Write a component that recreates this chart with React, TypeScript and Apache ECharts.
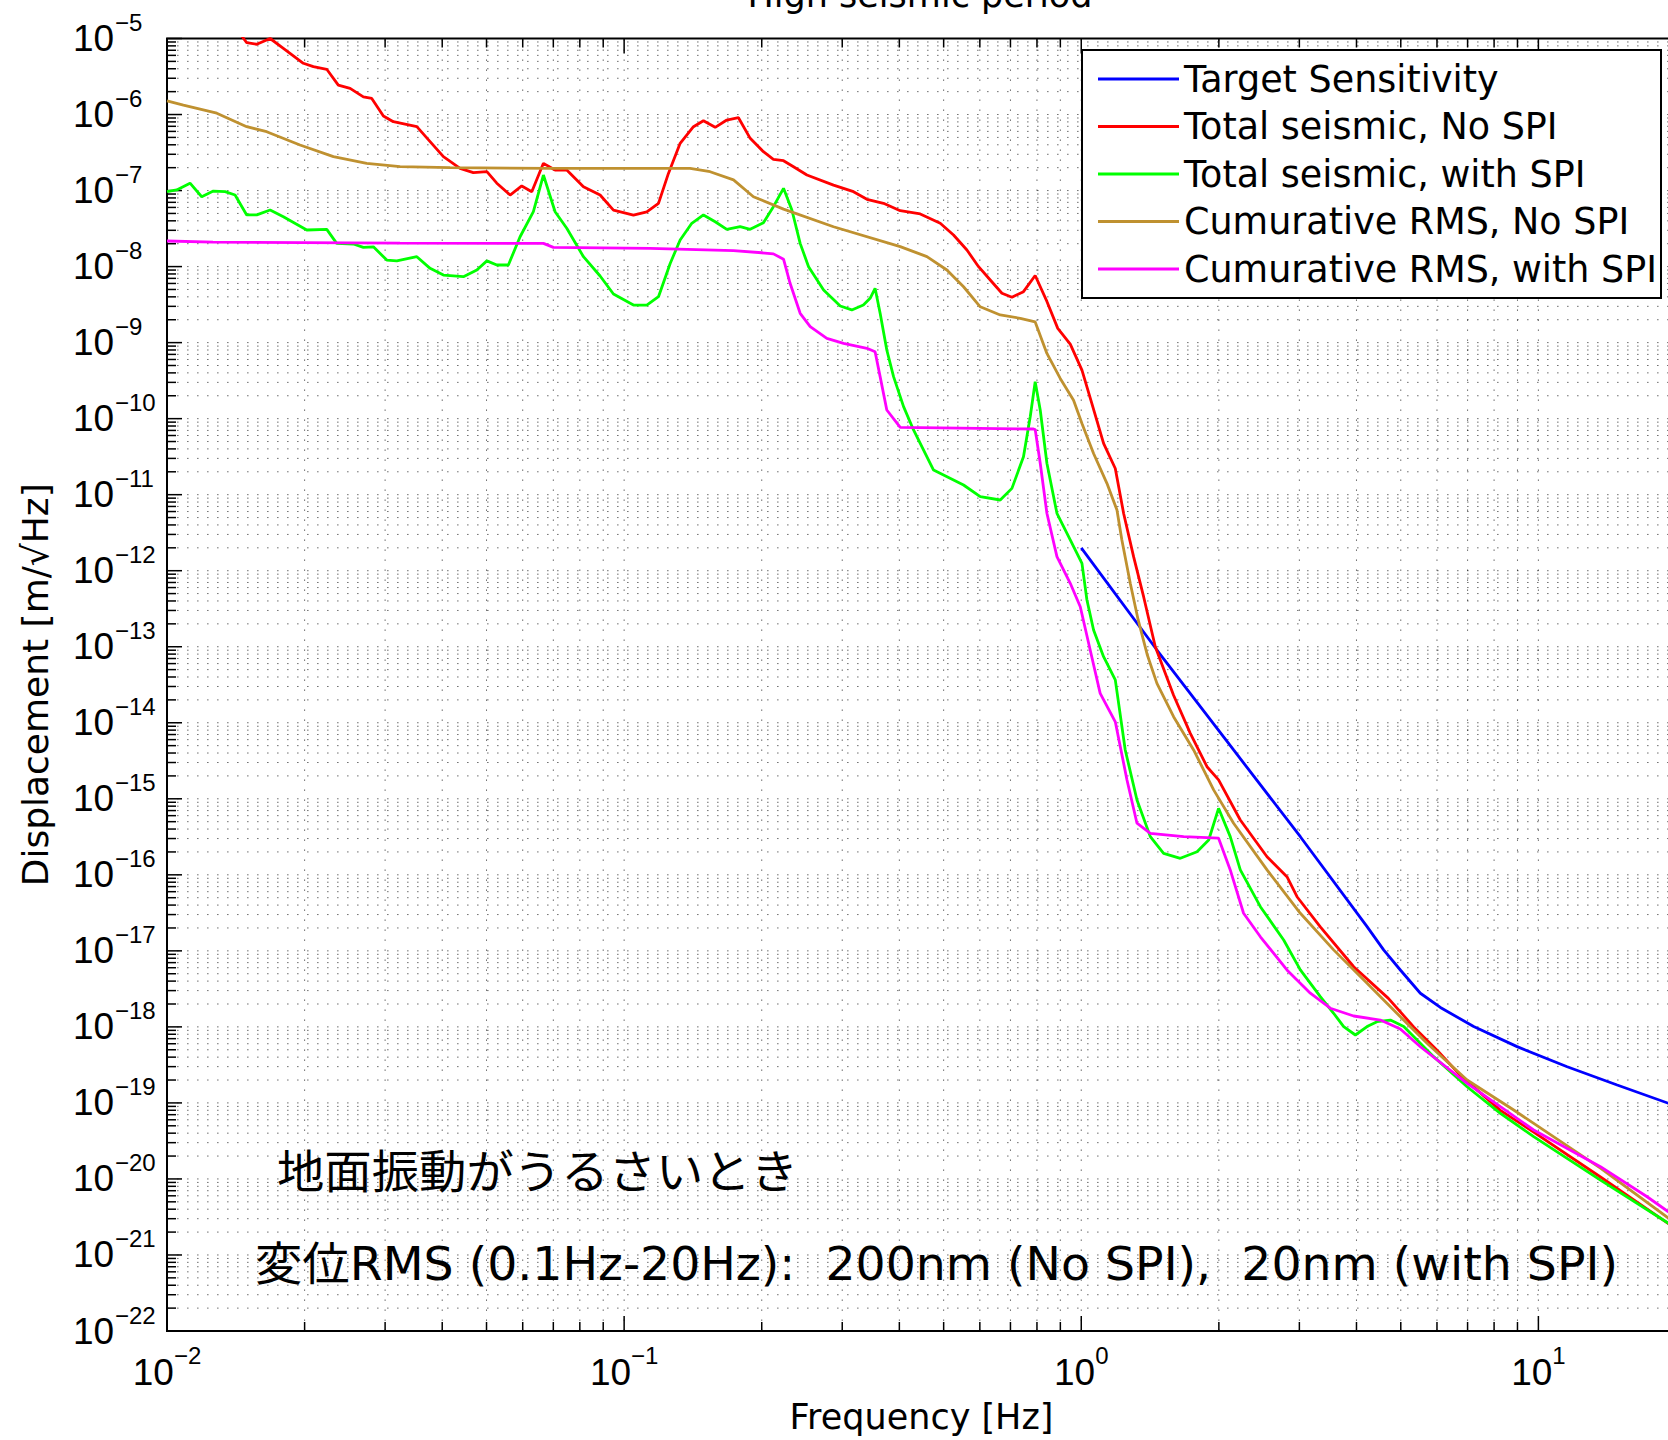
import React, { useEffect, useRef } from 'react';
import * as echarts from 'echarts';

// ---------- data ----------
const seriesNames = [
  'Target Sensitivity',
  'Total seismic, No SPI',
  'Total seismic, with SPI',
  'Cumurative RMS, No SPI',
  'Cumurative RMS, with SPI',
];
const seriesColors = ['#0000ff', '#ff0000', '#00ff00', '#bf9130', '#ff00ff'];

// [frequency Hz, displacement m/rtHz]
const targetSensitivity = [
  [1.0, 2.0e-12], [1.464, 9.05e-14], [2.154, 4.39e-15], [3.015, 3.17e-16], [4.219, 2.08e-17],
  [4.586, 1.03e-17], [4.989, 5.6e-18], [5.518, 2.77e-18], [6.104, 1.8e-18], [7.218, 1.01e-18],
  [8.982, 5.5e-19], [11.56, 2.99e-19], [14.87, 1.72e-19], [19.25, 9.89e-20], [20, 9.3e-20],
];

const totalNoSPI = [
  [0.014, 1.5e-5], [0.01494, 8.8e-6], [0.01572, 8.4e-6], [0.01681, 1.0e-5], [0.01797, 7.43e-6],
  [0.01987, 4.72e-6], [0.0209, 4.26e-6], [0.02236, 3.94e-6], [0.0237, 2.44e-6], [0.02515, 2.21e-6],
  [0.02689, 1.71e-6], [0.02805, 1.63e-6], [0.02974, 9.57e-7], [0.03127, 8.05e-7], [0.0352, 6.92e-7],
  [0.03763, 4.4e-7], [0.04024, 2.79e-7], [0.04376, 1.96e-7], [0.04679, 1.72e-7], [0.05009, 1.77e-7],
  [0.05266, 1.25e-7], [0.0563, 8.73e-8], [0.05971, 1.15e-7], [0.06281, 9.64e-8], [0.06659, 2.28e-7],
  [0.07063, 1.86e-7], [0.0749, 1.86e-7], [0.08147, 1.12e-7], [0.0886, 8.73e-8], [0.09476, 5.53e-8],
  [0.1048, 4.76e-8], [0.1121, 5.26e-8], [0.1189, 6.79e-8], [0.125, 1.68e-7], [0.1326, 4.18e-7],
  [0.1418, 6.92e-7], [0.1491, 8.3e-7], [0.1582, 6.79e-7], [0.1677, 8.47e-7], [0.1779, 9.08e-7],
  [0.1887, 4.86e-7], [0.2017, 3.24e-7], [0.2121, 2.58e-7], [0.2232, 2.47e-7], [0.2347, 2.06e-7],
  [0.2511, 1.6e-7], [0.2871, 1.18e-7], [0.3175, 9.66e-8], [0.3397, 7.67e-8], [0.3693, 6.79e-8],
  [0.4018, 5.43e-8], [0.4444, 4.92e-8], [0.4915, 3.71e-8], [0.5255, 2.6e-8], [0.5622, 1.65e-8],
  [0.5962, 9.97e-9], [0.6323, 6.67e-9], [0.6706, 4.46e-9], [0.7052, 3.95e-9], [0.7475, 4.68e-9],
  [0.7929, 7.64e-9], [0.8411, 3.48e-9], [0.8884, 1.54e-9], [0.9461, 9.57e-10], [1.0035, 4.35e-10],
  [1.055, 1.58e-10], [1.119, 4.72e-11], [1.187, 2.21e-11], [1.238, 5.66e-12], [1.302, 1.52e-12],
  [1.369, 4.55e-13], [1.452, 1.0e-13], [1.592, 2.3e-14], [1.732, 7.26e-15], [1.884, 2.64e-15],
  [1.997, 1.77e-15], [2.228, 5.26e-16], [2.549, 1.73e-16], [2.818, 9.44e-17], [2.965, 5.15e-17],
  [3.334, 2.07e-17], [3.944, 6.18e-18], [4.697, 2.37e-18], [5.335, 1.0e-18], [6.003, 4.93e-19],
  [6.751, 2.3e-19], [8.257, 7.97e-20], [9.765, 4.13e-20], [13.67, 1.06e-20], [19.25, 2.58e-21],
  [20, 2.2e-21],
];

const totalWithSPI = [
  [0.01, 9.66e-8], [0.0105, 1.02e-7], [0.01123, 1.25e-7], [0.01191, 8.3e-8], [0.01263, 9.86e-8],
  [0.0134, 9.66e-8], [0.01409, 8.75e-8], [0.01494, 4.78e-8], [0.01572, 4.78e-8], [0.01681, 5.55e-8],
  [0.01797, 4.53e-8], [0.02022, 3.03e-8], [0.02236, 3.09e-8], [0.02351, 2.02e-8], [0.02557, 1.98e-8],
  [0.02689, 1.79e-8], [0.02828, 1.82e-8], [0.03025, 1.22e-8], [0.03182, 1.19e-8], [0.0352, 1.35e-8],
  [0.03763, 9.48e-9], [0.04024, 7.74e-9], [0.0445, 7.36e-9], [0.04762, 9.02e-9], [0.05009, 1.19e-8],
  [0.05266, 1.05e-8], [0.05582, 1.05e-8], [0.05921, 2.47e-8], [0.06331, 5.27e-8], [0.06659, 1.6e-7],
  [0.07063, 5.27e-8], [0.0749, 3.19e-8], [0.08147, 1.35e-8], [0.0886, 7.52e-9], [0.09476, 4.36e-9],
  [0.1048, 3.12e-9], [0.1121, 3.12e-9], [0.1189, 4.02e-9], [0.1261, 1.1e-8], [0.1326, 2.24e-8],
  [0.1406, 3.71e-8], [0.1491, 4.78e-8], [0.1582, 3.89e-8], [0.1677, 3.09e-8], [0.1794, 3.35e-8],
  [0.1887, 3.09e-8], [0.2017, 3.78e-8], [0.2121, 6.14e-8], [0.2232, 1.07e-7], [0.2328, 5.55e-8],
  [0.2427, 2.02e-8], [0.2532, 9.97e-9], [0.2731, 4.92e-9], [0.297, 3.03e-9], [0.3148, 2.69e-9],
  [0.3337, 3.12e-9], [0.3452, 3.83e-9], [0.354, 5.18e-9], [0.3631, 2.43e-9], [0.3755, 8.0e-10],
  [0.3885, 3.57e-10], [0.4086, 1.44e-10], [0.4296, 7.1e-11], [0.4752, 2.11e-11], [0.5527, 1.34e-11],
  [0.6012, 9.4e-12], [0.6649, 8.51e-12], [0.7052, 1.21e-11], [0.7475, 3.16e-11], [0.7733, 1.06e-10],
  [0.7929, 3.06e-10], [0.8133, 1.3e-10], [0.8411, 2.59e-11], [0.8847, 5.69e-12], [0.9461, 2.54e-12],
  [1.0035, 1.25e-12], [1.029, 4.12e-13], [1.064, 1.66e-13], [1.119, 7.4e-14], [1.187, 3.66e-14],
  [1.248, 4.39e-15], [1.324, 9.64e-16], [1.416, 3.18e-16], [1.514, 1.92e-16], [1.647, 1.65e-16],
  [1.792, 2.01e-16], [1.9, 2.87e-16], [1.997, 7.5e-16], [2.118, 3.18e-16], [2.228, 1.16e-16],
  [2.465, 3.81e-17], [2.772, 1.39e-17], [3.015, 5.62e-18], [3.334, 2.5e-18], [3.565, 1.51e-18],
  [3.75, 1.01e-18], [3.978, 7.82e-19], [4.219, 1.01e-18], [4.437, 1.17e-18], [4.745, 1.23e-18],
  [5.074, 1.01e-18], [5.9, 4.06e-19], [6.982, 1.63e-19], [8.257, 7.3e-20], [9.765, 3.6e-20],
  [13.67, 9.64e-21], [19.25, 2.61e-21], [20, 2.2e-21],
];

const cumRmsNoSPI = [
  [0.01, 1.51e-6], [0.01086, 1.33e-6], [0.01285, 1.04e-6], [0.01494, 6.92e-7], [0.01652, 5.94e-7],
  [0.01954, 3.97e-7], [0.02312, 2.79e-7], [0.02735, 2.28e-7], [0.03235, 2.06e-7], [0.04162, 2.0e-7],
  [0.06888, 1.96e-7], [0.1394, 1.96e-7], [0.1542, 1.77e-7], [0.1735, 1.38e-7], [0.1918, 8.3e-8],
  [0.2232, 5.7e-8], [0.2871, 3.34e-8], [0.4018, 1.83e-8], [0.4596, 1.35e-8], [0.5082, 9.02e-9],
  [0.5527, 5.43e-9], [0.6012, 2.96e-9], [0.6649, 2.31e-9], [0.7355, 2.09e-9], [0.7929, 1.87e-9],
  [0.8411, 7.21e-10], [0.8995, 3.38e-10], [0.9619, 1.75e-10], [1.0035, 8.64e-11], [1.064, 3.48e-11],
  [1.138, 1.41e-11], [1.197, 6.27e-12], [1.227, 2.54e-12], [1.28, 6.83e-13], [1.332, 2.25e-13],
  [1.395, 7.78e-14], [1.464, 3.3e-14], [1.592, 1.2e-14], [1.761, 4.39e-15], [1.948, 1.31e-15],
  [2.154, 4.77e-16], [2.549, 1.16e-16], [3.015, 3.12e-17], [3.565, 1.03e-17], [4.219, 3.74e-18],
  [4.989, 1.36e-18], [5.707, 6.08e-19], [6.982, 2.0e-19], [8.831, 8.07e-20], [13.67, 1.39e-20],
  [19.25, 3.06e-21], [20, 2.7e-21],
];

const cumRmsWithSPI = [
  [0.01, 2.17e-8], [0.01261, 2.1e-8], [0.03235, 2.04e-8], [0.06227, 2.02e-8], [0.06659, 2.02e-8],
  [0.07003, 1.79e-8], [0.114, 1.74e-8], [0.1735, 1.62e-8], [0.2, 1.52e-8], [0.2121, 1.47e-8],
  [0.2232, 1.25e-8], [0.2307, 6.03e-9], [0.2427, 2.43e-9], [0.2553, 1.62e-9], [0.2776, 1.14e-9],
  [0.302, 9.8e-10], [0.3397, 8.42e-10], [0.354, 7.6e-10], [0.3631, 3.57e-10], [0.3755, 1.3e-10],
  [0.4018, 7.66e-11], [0.7864, 7.31e-11], [0.7929, 7.2e-11], [0.8133, 2.59e-11], [0.8411, 5.69e-12],
  [0.8847, 1.53e-12], [0.9461, 6.83e-13], [0.995, 3.36e-13], [1.046, 9.05e-14], [1.1, 2.44e-14],
  [1.187, 1.03e-14], [1.259, 1.77e-15], [1.324, 4.77e-16], [1.416, 3.52e-16], [1.675, 3.18e-16],
  [1.997, 3.03e-16], [2.118, 1.16e-16], [2.265, 3.12e-17], [2.465, 1.53e-17], [2.818, 5.6e-18],
  [3.17, 2.77e-18], [3.506, 1.76e-18], [3.944, 1.39e-18], [4.511, 1.23e-18], [4.989, 9.37e-19],
  [5.518, 5.48e-19], [6.982, 1.81e-19], [8.257, 8.91e-20], [9.765, 4.4e-20], [13.67, 1.45e-20],
  [17.29, 5.83e-21], [19.25, 3.7e-21], [20, 3.2e-21],
];

// axis ranges and grid positions
const xMin = 0.01;
const xMax = 20;
const yMin = 1e-22;
const yMax = 1e-5;
const gridMantissas = [1, 2, 3, 4, 5, 6, 7, 8, 9];
const xDecades = [0.01, 0.1, 1, 10];
const yDecadeExponents = [-22, -21, -20, -19, -18, -17, -16, -15, -14, -13, -12, -11, -10, -9, -8, -7, -6, -5];

const titleText = 'High seismic period';
const xAxisTitle = 'Frequency [Hz]';
const yAxisTitle = 'Displacement [m/√Hz]';
const noteLine1 = '地面振動がうるさいとき';
const noteLine2 = '変位RMS (0.1Hz-20Hz):  200nm (No SPI),  20nm (with SPI)';

// ---------- helpers ----------
const xGridData: number[][] = [];
xDecades.forEach((d) => {
  gridMantissas.forEach((m) => {
    const v = m * d;
    if (v <= xMax * 1.0001) xGridData.push([v, yMin, m === 1 ? 1 : 0]);
  });
});
xGridData.push([xMax, yMin, 0]);

const yGridData: number[][] = [];
yDecadeExponents.forEach((e) => {
  const d = Math.pow(10, e);
  gridMantissas.forEach((m) => {
    const v = m * d;
    if (v <= yMax * 1.0001) yGridData.push([xMin, v, m === 1 ? 1 : 0, e]);
  });
});

const GRID_LEFT = 167;
const GRID_TOP = 38.5;
const GRID_W = 1509;
const GRID_H = 1292.5;

const dotStyle = { stroke: '#000', lineWidth: 1, lineDash: [1.6, 8.4], opacity: 0.55 };
const tickStyle = { stroke: '#000', lineWidth: 1.5 };

function expText(e: number) {
  return e < 0 ? '\u2212' + Math.abs(e) : String(e);
}

export default function App() {
  const ref = useRef<HTMLDivElement>(null);

  useEffect(() => {
    if (!ref.current) return;
    const chart = echarts.init(ref.current, null, { renderer: 'svg' });

    const lineSeries = [targetSensitivity, totalNoSPI, totalWithSPI, cumRmsNoSPI, cumRmsWithSPI].map(
      (data, i) => ({
        name: seriesNames[i],
        type: 'line',
        data,
        symbol: 'none',
        showSymbol: false,
        clip: true,
        lineStyle: { width: 2.8, color: seriesColors[i] },
        itemStyle: { color: seriesColors[i] },
        emphasis: { disabled: true },
        z: 3 + i,
      })
    );

    const option: any = {
      animation: false,
      backgroundColor: '#fff',
      title: {
        text: titleText,
        left: 920,
        top: -23,
        padding: 0,
        textAlign: 'center',
        textStyle: { fontFamily: 'DejaVu Sans', fontSize: 35, fontWeight: 'normal', color: '#000' },
      },
      grid: {
        left: GRID_LEFT,
        top: GRID_TOP,
        width: GRID_W,
        height: GRID_H,
        show: true,
        borderColor: '#000',
        borderWidth: 2,
        backgroundColor: 'transparent',
        containLabel: false,
        outerBoundsMode: 'none',
      },
      legend: {
        data: seriesNames,
        orient: 'vertical',
        left: 1082,
        top: 50,
        padding: [9, 4, 9, 16],
        itemGap: 7.5,
        itemWidth: 81,
        itemHeight: 3,
        icon: 'rect',
        backgroundColor: '#fff',
        borderColor: '#000',
        borderWidth: 2,
        borderRadius: 0,
        selectedMode: false,
        textStyle: { fontFamily: 'DejaVu Sans', fontSize: 36.5, color: '#000', lineHeight: 40 },
        z: 20,
      },
      xAxis: {
        type: 'log',
        logBase: 10,
        min: xMin,
        max: xMax,
        name: xAxisTitle,
        nameLocation: 'middle',
        nameGap: 68,
        nameTextStyle: { fontFamily: 'DejaVu Sans', fontSize: 35, color: '#000' },
        axisLine: { show: false },
        axisTick: { show: false },
        splitLine: { show: false },
        minorSplitLine: { show: false },
        axisLabel: {
          margin: 12,
          showMinLabel: true,
          showMaxLabel: false,
          formatter: (v: number) => {
            const l = Math.log10(v);
            const e = Math.round(l);
            if (Math.abs(l - e) > 1e-6) return '';
            return `{b|10}{e|${expText(e)}}`;
          },
          rich: {
            b: { fontFamily: 'Liberation Sans', fontSize: 37, color: '#000' },
            e: { fontFamily: 'Liberation Sans', fontSize: 24, color: '#000', padding: [0, 0, 34, 0] },
          },
        },
      },
      yAxis: {
        type: 'log',
        logBase: 10,
        min: yMin,
        max: yMax,
        name: yAxisTitle,
        nameLocation: 'middle',
        nameGap: 114,
        nameRotate: 90,
        nameTextStyle: { fontFamily: 'DejaVu Sans', fontSize: 36, color: '#000' },
        axisLine: { show: false },
        axisTick: { show: false },
        splitLine: { show: false },
        axisLabel: { show: false },
      },
      graphic: [
        {
          type: 'text',
          x: 277,
          y: 1168,
          scaleX: 1.03,
          silent: true,
          style: {
            text: noteLine1,
            fontFamily: 'Noto Sans CJK JP',
            fontSize: 46,
            fill: '#000',
            align: 'left',
            verticalAlign: 'middle',
          },
        },
        {
          type: 'text',
          x: 255,
          y: 1264,
          scaleX: 1.03,
          silent: true,
          style: {
            text: noteLine2,
            fontFamily: "'DejaVu Sans', 'Noto Sans CJK JP'",
            fontSize: 46,
            fill: '#000',
            align: 'left',
            verticalAlign: 'middle',
          },
        },
      ],
      series: [
        {
          type: 'custom',
          name: 'xgrid',
          silent: true,
          data: xGridData,
          encode: { x: 0, y: 1 },
          z: 1,
          renderItem: (_p: any, api: any) => {
            const v = api.value(0);
            const major = api.value(2) === 1;
            const b = api.coord([v, yMin]);
            const t = api.coord([v, yMax]);
            const len = major ? 15 : 9;
            const children: any[] = [];
            if (v > xMin * 1.0001 && v < xMax * 0.9999) {
              children.push({ type: 'line', shape: { x1: b[0], y1: b[1], x2: t[0], y2: t[1] }, style: dotStyle });
            }
            children.push({ type: 'line', shape: { x1: b[0], y1: b[1], x2: b[0], y2: b[1] - len }, style: tickStyle });
            children.push({ type: 'line', shape: { x1: t[0], y1: t[1], x2: t[0], y2: t[1] + len }, style: tickStyle });
            return { type: 'group', children };
          },
        },
        {
          type: 'custom',
          name: 'ygrid',
          silent: true,
          data: yGridData,
          encode: { x: 0, y: 1 },
          z: 1,
          renderItem: (_p: any, api: any) => {
            const v = api.value(1);
            const major = api.value(2) === 1;
            const e = api.value(3);
            const l = api.coord([xMin, v]);
            const r = api.coord([xMax, v]);
            const len = major ? 15 : 9;
            const children: any[] = [];
            if (v > yMin * 1.0001 && v < yMax * 0.9999) {
              children.push({ type: 'line', shape: { x1: l[0], y1: l[1], x2: r[0], y2: r[1] }, style: dotStyle });
            }
            children.push({ type: 'line', shape: { x1: l[0], y1: l[1], x2: l[0] + len, y2: l[1] }, style: tickStyle });
            if (major) {
              children.push({
                type: 'text',
                x: l[0] - 94,
                y: l[1],
                style: {
                  text: '10',
                  fontFamily: 'Liberation Sans',
                  fontSize: 37,
                  fill: '#000',
                  align: 'left',
                  verticalAlign: 'middle',
                },
              });
              children.push({
                type: 'text',
                x: l[0] - 94 + 42,
                y: l[1] - 16,
                style: {
                  text: expText(e),
                  fontFamily: 'Liberation Sans',
                  fontSize: 24,
                  fill: '#000',
                  align: 'left',
                  verticalAlign: 'middle',
                },
              });
            }
            return { type: 'group', children };
          },
        },
        ...lineSeries,
      ],
    };

    chart.setOption(option);
    return () => chart.dispose();
  }, []);

  return (
    <div
      ref={ref}
      style={{ position: 'absolute', left: 0, top: 0, width: 1668, height: 1440, overflow: 'hidden' }}
    />
  );
}
